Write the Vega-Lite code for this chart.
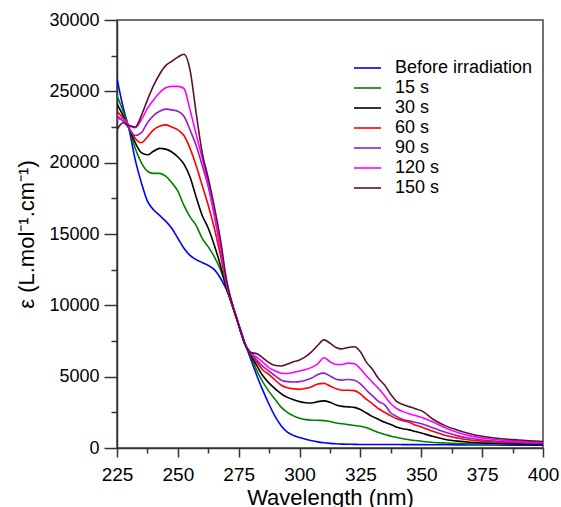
{
"$schema": "https://vega.github.io/schema/vega-lite/v6.json",
"width": 426, "height": 428,
"autosize": "none",
"padding": {"left": 117, "top": 20, "right": 18, "bottom": 59},
"config": {
  "font": "Liberation Sans",
  "view": {"stroke": "#444", "strokeWidth": 1.5},
  "axis": {"domainColor": "#333", "domainWidth": 1.5, "tickColor": "#333", "tickWidth": 1.5, "labelColor": "#000", "labelFontSize": 19, "titleColor": "#000", "titleFontSize": 22, "titleFontWeight": "normal", "grid": false}
},
"datasets": {
  "spectra": [
{"w":225,"s":"Before irradiation","e":25900},{"w":227.5,"s":"Before irradiation","e":23900},{"w":230,"s":"Before irradiation","e":22300},{"w":232.5,"s":"Before irradiation","e":20200},{"w":235,"s":"Before irradiation","e":18600},{"w":237.5,"s":"Before irradiation","e":17300},{"w":240,"s":"Before irradiation","e":16700},{"w":242.5,"s":"Before irradiation","e":16300},{"w":245,"s":"Before irradiation","e":15900},{"w":247.5,"s":"Before irradiation","e":15400},{"w":250,"s":"Before irradiation","e":14700},{"w":252.5,"s":"Before irradiation","e":14000},{"w":255,"s":"Before irradiation","e":13500},{"w":257.5,"s":"Before irradiation","e":13200},{"w":260,"s":"Before irradiation","e":13000},{"w":262.5,"s":"Before irradiation","e":12800},{"w":265,"s":"Before irradiation","e":12500},{"w":267.5,"s":"Before irradiation","e":11900},{"w":270,"s":"Before irradiation","e":11100},{"w":272.5,"s":"Before irradiation","e":10000},{"w":275,"s":"Before irradiation","e":8700},{"w":277.5,"s":"Before irradiation","e":7400},{"w":280,"s":"Before irradiation","e":6200},{"w":282.5,"s":"Before irradiation","e":5050},{"w":285,"s":"Before irradiation","e":4000},{"w":287.5,"s":"Before irradiation","e":3050},{"w":290,"s":"Before irradiation","e":2200},{"w":292.5,"s":"Before irradiation","e":1550},{"w":295,"s":"Before irradiation","e":1120},{"w":297.5,"s":"Before irradiation","e":880},{"w":300,"s":"Before irradiation","e":730},{"w":302.5,"s":"Before irradiation","e":610},{"w":305,"s":"Before irradiation","e":510},{"w":307.5,"s":"Before irradiation","e":430},{"w":310,"s":"Before irradiation","e":370},{"w":312.5,"s":"Before irradiation","e":325},{"w":315,"s":"Before irradiation","e":295},{"w":317.5,"s":"Before irradiation","e":275},{"w":320,"s":"Before irradiation","e":262},{"w":322.5,"s":"Before irradiation","e":255},{"w":325,"s":"Before irradiation","e":250},{"w":327.5,"s":"Before irradiation","e":250},{"w":330,"s":"Before irradiation","e":250},{"w":332.5,"s":"Before irradiation","e":250},{"w":335,"s":"Before irradiation","e":250},{"w":337.5,"s":"Before irradiation","e":245},{"w":340,"s":"Before irradiation","e":245},{"w":342.5,"s":"Before irradiation","e":240},{"w":345,"s":"Before irradiation","e":240},{"w":347.5,"s":"Before irradiation","e":240},{"w":350,"s":"Before irradiation","e":235},{"w":355,"s":"Before irradiation","e":230},{"w":360,"s":"Before irradiation","e":225},{"w":365,"s":"Before irradiation","e":220},{"w":370,"s":"Before irradiation","e":215},{"w":380,"s":"Before irradiation","e":210},{"w":390,"s":"Before irradiation","e":200},{"w":400,"s":"Before irradiation","e":190},
{"w":225,"s":"15 s","e":24700},{"w":227.5,"s":"15 s","e":23600},{"w":230,"s":"15 s","e":22400},{"w":232.5,"s":"15 s","e":21000},{"w":235,"s":"15 s","e":20000},{"w":237.5,"s":"15 s","e":19400},{"w":240,"s":"15 s","e":19250},{"w":242.5,"s":"15 s","e":19250},{"w":245,"s":"15 s","e":19050},{"w":247.5,"s":"15 s","e":18600},{"w":250,"s":"15 s","e":18000},{"w":252.5,"s":"15 s","e":17000},{"w":255,"s":"15 s","e":16200},{"w":257.5,"s":"15 s","e":15600},{"w":260,"s":"15 s","e":14700},{"w":262.5,"s":"15 s","e":14100},{"w":265,"s":"15 s","e":13400},{"w":267.5,"s":"15 s","e":12500},{"w":270,"s":"15 s","e":11200},{"w":272.5,"s":"15 s","e":9900},{"w":275,"s":"15 s","e":8600},{"w":277.5,"s":"15 s","e":7300},{"w":280,"s":"15 s","e":6400},{"w":282.5,"s":"15 s","e":5400},{"w":285,"s":"15 s","e":4600},{"w":287.5,"s":"15 s","e":3950},{"w":290,"s":"15 s","e":3400},{"w":292.5,"s":"15 s","e":2850},{"w":295,"s":"15 s","e":2500},{"w":297.5,"s":"15 s","e":2250},{"w":300,"s":"15 s","e":2080},{"w":302.5,"s":"15 s","e":1990},{"w":305,"s":"15 s","e":1950},{"w":307.5,"s":"15 s","e":1940},{"w":310,"s":"15 s","e":1920},{"w":312.5,"s":"15 s","e":1860},{"w":315,"s":"15 s","e":1750},{"w":317.5,"s":"15 s","e":1700},{"w":320,"s":"15 s","e":1640},{"w":322.5,"s":"15 s","e":1580},{"w":325,"s":"15 s","e":1520},{"w":327.5,"s":"15 s","e":1420},{"w":330,"s":"15 s","e":1250},{"w":332.5,"s":"15 s","e":1080},{"w":335,"s":"15 s","e":940},{"w":337.5,"s":"15 s","e":830},{"w":340,"s":"15 s","e":730},{"w":342.5,"s":"15 s","e":650},{"w":345,"s":"15 s","e":580},{"w":347.5,"s":"15 s","e":520},{"w":350,"s":"15 s","e":470},{"w":355,"s":"15 s","e":390},{"w":360,"s":"15 s","e":350},{"w":365,"s":"15 s","e":320},{"w":370,"s":"15 s","e":300},{"w":380,"s":"15 s","e":280},{"w":390,"s":"15 s","e":270},{"w":400,"s":"15 s","e":260},
{"w":225,"s":"30 s","e":24100},{"w":227.5,"s":"30 s","e":23300},{"w":230,"s":"30 s","e":22400},{"w":232.5,"s":"30 s","e":21400},{"w":235,"s":"30 s","e":20700},{"w":237.5,"s":"30 s","e":20550},{"w":240,"s":"30 s","e":20800},{"w":242.5,"s":"30 s","e":21000},{"w":245,"s":"30 s","e":20950},{"w":247.5,"s":"30 s","e":20750},{"w":250,"s":"30 s","e":20400},{"w":252.5,"s":"30 s","e":19900},{"w":255,"s":"30 s","e":19000},{"w":257.5,"s":"30 s","e":17600},{"w":260,"s":"30 s","e":16300},{"w":262.5,"s":"30 s","e":15400},{"w":265,"s":"30 s","e":14200},{"w":267.5,"s":"30 s","e":12800},{"w":270,"s":"30 s","e":11200},{"w":272.5,"s":"30 s","e":9900},{"w":275,"s":"30 s","e":8600},{"w":277.5,"s":"30 s","e":7300},{"w":280,"s":"30 s","e":6500},{"w":282.5,"s":"30 s","e":5750},{"w":285,"s":"30 s","e":5050},{"w":287.5,"s":"30 s","e":4550},{"w":290,"s":"30 s","e":4150},{"w":292.5,"s":"30 s","e":3800},{"w":295,"s":"30 s","e":3550},{"w":297.5,"s":"30 s","e":3380},{"w":300,"s":"30 s","e":3250},{"w":302.5,"s":"30 s","e":3170},{"w":305,"s":"30 s","e":3150},{"w":307.5,"s":"30 s","e":3250},{"w":310,"s":"30 s","e":3300},{"w":312.5,"s":"30 s","e":3200},{"w":315,"s":"30 s","e":3020},{"w":317.5,"s":"30 s","e":2920},{"w":320,"s":"30 s","e":2880},{"w":322.5,"s":"30 s","e":2850},{"w":325,"s":"30 s","e":2700},{"w":327.5,"s":"30 s","e":2450},{"w":330,"s":"30 s","e":2200},{"w":332.5,"s":"30 s","e":2000},{"w":335,"s":"30 s","e":1800},{"w":337.5,"s":"30 s","e":1650},{"w":340,"s":"30 s","e":1450},{"w":342.5,"s":"30 s","e":1350},{"w":345,"s":"30 s","e":1270},{"w":347.5,"s":"30 s","e":1150},{"w":350,"s":"30 s","e":1050},{"w":355,"s":"30 s","e":800},{"w":360,"s":"30 s","e":600},{"w":365,"s":"30 s","e":480},{"w":370,"s":"30 s","e":400},{"w":380,"s":"30 s","e":330},{"w":390,"s":"30 s","e":290},{"w":400,"s":"30 s","e":260},
{"w":225,"s":"60 s","e":23600},{"w":227.5,"s":"60 s","e":23100},{"w":230,"s":"60 s","e":22400},{"w":232.5,"s":"60 s","e":21700},{"w":235,"s":"60 s","e":21400},{"w":237.5,"s":"60 s","e":21800},{"w":240,"s":"60 s","e":22300},{"w":242.5,"s":"60 s","e":22550},{"w":245,"s":"60 s","e":22650},{"w":247.5,"s":"60 s","e":22500},{"w":250,"s":"60 s","e":22300},{"w":252.5,"s":"60 s","e":21900},{"w":255,"s":"60 s","e":21000},{"w":257.5,"s":"60 s","e":19800},{"w":260,"s":"60 s","e":18400},{"w":262.5,"s":"60 s","e":17000},{"w":265,"s":"60 s","e":15400},{"w":267.5,"s":"60 s","e":13500},{"w":270,"s":"60 s","e":11400},{"w":272.5,"s":"60 s","e":10000},{"w":275,"s":"60 s","e":8600},{"w":277.5,"s":"60 s","e":7300},{"w":280,"s":"60 s","e":6600},{"w":282.5,"s":"60 s","e":6000},{"w":285,"s":"60 s","e":5450},{"w":287.5,"s":"60 s","e":5150},{"w":290,"s":"60 s","e":4750},{"w":292.5,"s":"60 s","e":4400},{"w":295,"s":"60 s","e":4220},{"w":297.5,"s":"60 s","e":4150},{"w":300,"s":"60 s","e":4110},{"w":302.5,"s":"60 s","e":4180},{"w":305,"s":"60 s","e":4300},{"w":307.5,"s":"60 s","e":4480},{"w":310,"s":"60 s","e":4530},{"w":312.5,"s":"60 s","e":4350},{"w":315,"s":"60 s","e":4150},{"w":317.5,"s":"60 s","e":4050},{"w":320,"s":"60 s","e":4050},{"w":322.5,"s":"60 s","e":4020},{"w":325,"s":"60 s","e":3800},{"w":327.5,"s":"60 s","e":3400},{"w":330,"s":"60 s","e":3100},{"w":332.5,"s":"60 s","e":2750},{"w":335,"s":"60 s","e":2500},{"w":337.5,"s":"60 s","e":2250},{"w":340,"s":"60 s","e":2050},{"w":342.5,"s":"60 s","e":1920},{"w":345,"s":"60 s","e":1800},{"w":347.5,"s":"60 s","e":1620},{"w":350,"s":"60 s","e":1480},{"w":355,"s":"60 s","e":1150},{"w":360,"s":"60 s","e":880},{"w":365,"s":"60 s","e":700},{"w":370,"s":"60 s","e":560},{"w":380,"s":"60 s","e":430},{"w":390,"s":"60 s","e":370},{"w":400,"s":"60 s","e":320},
{"w":225,"s":"90 s","e":23300},{"w":227.5,"s":"90 s","e":22900},{"w":230,"s":"90 s","e":22400},{"w":232.5,"s":"90 s","e":21900},{"w":235,"s":"90 s","e":22100},{"w":237.5,"s":"90 s","e":22800},{"w":240,"s":"90 s","e":23300},{"w":242.5,"s":"90 s","e":23600},{"w":245,"s":"90 s","e":23750},{"w":247.5,"s":"90 s","e":23700},{"w":250,"s":"90 s","e":23600},{"w":252.5,"s":"90 s","e":23250},{"w":255,"s":"90 s","e":22300},{"w":257.5,"s":"90 s","e":21200},{"w":260,"s":"90 s","e":19800},{"w":262.5,"s":"90 s","e":18300},{"w":265,"s":"90 s","e":16300},{"w":267.5,"s":"90 s","e":14000},{"w":270,"s":"90 s","e":11500},{"w":272.5,"s":"90 s","e":10000},{"w":275,"s":"90 s","e":8600},{"w":277.5,"s":"90 s","e":7300},{"w":280,"s":"90 s","e":6650},{"w":282.5,"s":"90 s","e":6150},{"w":285,"s":"90 s","e":5700},{"w":287.5,"s":"90 s","e":5380},{"w":290,"s":"90 s","e":5050},{"w":292.5,"s":"90 s","e":4750},{"w":295,"s":"90 s","e":4650},{"w":297.5,"s":"90 s","e":4630},{"w":300,"s":"90 s","e":4650},{"w":302.5,"s":"90 s","e":4750},{"w":305,"s":"90 s","e":4900},{"w":307.5,"s":"90 s","e":5150},{"w":310,"s":"90 s","e":5250},{"w":312.5,"s":"90 s","e":5050},{"w":315,"s":"90 s","e":4820},{"w":317.5,"s":"90 s","e":4760},{"w":320,"s":"90 s","e":4800},{"w":322.5,"s":"90 s","e":4750},{"w":325,"s":"90 s","e":4500},{"w":327.5,"s":"90 s","e":4050},{"w":330,"s":"90 s","e":3650},{"w":332.5,"s":"90 s","e":3250},{"w":335,"s":"90 s","e":3020},{"w":337.5,"s":"90 s","e":2450},{"w":340,"s":"90 s","e":2200},{"w":342.5,"s":"90 s","e":2000},{"w":345,"s":"90 s","e":1900},{"w":347.5,"s":"90 s","e":1800},{"w":350,"s":"90 s","e":1700},{"w":355,"s":"90 s","e":1400},{"w":360,"s":"90 s","e":1100},{"w":365,"s":"90 s","e":850},{"w":370,"s":"90 s","e":680},{"w":380,"s":"90 s","e":480},{"w":390,"s":"90 s","e":410},{"w":400,"s":"90 s","e":360},
{"w":225,"s":"120 s","e":23000},{"w":227.5,"s":"120 s","e":23100},{"w":230,"s":"120 s","e":22600},{"w":232.5,"s":"120 s","e":22450},{"w":235,"s":"120 s","e":23000},{"w":237.5,"s":"120 s","e":23800},{"w":240,"s":"120 s","e":24400},{"w":242.5,"s":"120 s","e":24900},{"w":245,"s":"120 s","e":25250},{"w":247.5,"s":"120 s","e":25350},{"w":250,"s":"120 s","e":25350},{"w":252.5,"s":"120 s","e":25200},{"w":255,"s":"120 s","e":23700},{"w":257.5,"s":"120 s","e":22000},{"w":260,"s":"120 s","e":20300},{"w":262.5,"s":"120 s","e":18500},{"w":265,"s":"120 s","e":16300},{"w":267.5,"s":"120 s","e":14000},{"w":270,"s":"120 s","e":11600},{"w":272.5,"s":"120 s","e":10000},{"w":275,"s":"120 s","e":8600},{"w":277.5,"s":"120 s","e":7300},{"w":280,"s":"120 s","e":6650},{"w":282.5,"s":"120 s","e":6350},{"w":285,"s":"120 s","e":6000},{"w":287.5,"s":"120 s","e":5620},{"w":290,"s":"120 s","e":5400},{"w":292.5,"s":"120 s","e":5240},{"w":295,"s":"120 s","e":5220},{"w":297.5,"s":"120 s","e":5300},{"w":300,"s":"120 s","e":5400},{"w":302.5,"s":"120 s","e":5500},{"w":305,"s":"120 s","e":5650},{"w":307.5,"s":"120 s","e":5900},{"w":310,"s":"120 s","e":6330},{"w":312.5,"s":"120 s","e":6050},{"w":315,"s":"120 s","e":5850},{"w":317.5,"s":"120 s","e":5850},{"w":320,"s":"120 s","e":5950},{"w":322.5,"s":"120 s","e":5900},{"w":325,"s":"120 s","e":5550},{"w":327.5,"s":"120 s","e":5050},{"w":330,"s":"120 s","e":4600},{"w":332.5,"s":"120 s","e":4150},{"w":335,"s":"120 s","e":3650},{"w":337.5,"s":"120 s","e":3100},{"w":340,"s":"120 s","e":2750},{"w":342.5,"s":"120 s","e":2550},{"w":345,"s":"120 s","e":2400},{"w":347.5,"s":"120 s","e":2280},{"w":350,"s":"120 s","e":2150},{"w":355,"s":"120 s","e":1800},{"w":360,"s":"120 s","e":1400},{"w":365,"s":"120 s","e":1080},{"w":370,"s":"120 s","e":850},{"w":380,"s":"120 s","e":600},{"w":390,"s":"120 s","e":470},{"w":400,"s":"120 s","e":400},
{"w":225,"s":"150 s","e":22300},{"w":227.5,"s":"150 s","e":22800},{"w":230,"s":"150 s","e":22600},{"w":232.5,"s":"150 s","e":22500},{"w":235,"s":"150 s","e":23300},{"w":237.5,"s":"150 s","e":24400},{"w":240,"s":"150 s","e":25400},{"w":242.5,"s":"150 s","e":26200},{"w":245,"s":"150 s","e":26800},{"w":247.5,"s":"150 s","e":27100},{"w":250,"s":"150 s","e":27400},{"w":252.5,"s":"150 s","e":27600},{"w":255,"s":"150 s","e":26500},{"w":257.5,"s":"150 s","e":23500},{"w":260,"s":"150 s","e":20700},{"w":262.5,"s":"150 s","e":18900},{"w":265,"s":"150 s","e":16900},{"w":267.5,"s":"150 s","e":14600},{"w":270,"s":"150 s","e":11800},{"w":272.5,"s":"150 s","e":10000},{"w":275,"s":"150 s","e":8600},{"w":277.5,"s":"150 s","e":7300},{"w":280,"s":"150 s","e":6700},{"w":282.5,"s":"150 s","e":6600},{"w":285,"s":"150 s","e":6300},{"w":287.5,"s":"150 s","e":5980},{"w":290,"s":"150 s","e":5780},{"w":292.5,"s":"150 s","e":5750},{"w":295,"s":"150 s","e":5880},{"w":297.5,"s":"150 s","e":6050},{"w":300,"s":"150 s","e":6170},{"w":302.5,"s":"150 s","e":6400},{"w":305,"s":"150 s","e":6750},{"w":307.5,"s":"150 s","e":7200},{"w":310,"s":"150 s","e":7580},{"w":312.5,"s":"150 s","e":7350},{"w":315,"s":"150 s","e":7050},{"w":317.5,"s":"150 s","e":6950},{"w":320,"s":"150 s","e":7050},{"w":322.5,"s":"150 s","e":7100},{"w":325,"s":"150 s","e":6750},{"w":327.5,"s":"150 s","e":6000},{"w":330,"s":"150 s","e":5500},{"w":332.5,"s":"150 s","e":4850},{"w":335,"s":"150 s","e":4400},{"w":337.5,"s":"150 s","e":3750},{"w":340,"s":"150 s","e":3250},{"w":342.5,"s":"150 s","e":3050},{"w":345,"s":"150 s","e":2900},{"w":347.5,"s":"150 s","e":2750},{"w":350,"s":"150 s","e":2620},{"w":355,"s":"150 s","e":2000},{"w":360,"s":"150 s","e":1550},{"w":365,"s":"150 s","e":1250},{"w":370,"s":"150 s","e":1000},{"w":380,"s":"150 s","e":700},{"w":390,"s":"150 s","e":560},{"w":400,"s":"150 s","e":460}
  ]
},
"data": {"name": "spectra"},
"mark": {"type": "line", "strokeWidth": 1.6, "interpolate": "monotone", "clip": true},
"encoding": {
  "x": {"field": "w", "type": "quantitative",
    "scale": {"domain": [225, 400], "nice": false, "zero": false},
    "axis": {"title": "Wavelength (nm)", "titlePadding": 3,
      "values": [225, 237.5, 250, 262.5, 275, 287.5, 300, 312.5, 325, 337.5, 350, 362.5, 375, 387.5, 400],
      "labelExpr": "datum.value % 25 === 0 ? datum.label : ''",
      "tickSize": {"condition": {"test": "datum.value % 25 === 0", "value": 9}, "value": 5},
      "labelPadding": 8, "labelFlush": false, "labelOverlap": false}},
  "y": {"field": "e", "type": "quantitative",
    "scale": {"domain": [0, 30000], "nice": false},
    "axis": {"title": "ε (L.mol⁻¹.cm⁻¹)", "titlePadding": 10, "format": "d",
      "values": [0, 2500, 5000, 7500, 10000, 12500, 15000, 17500, 20000, 22500, 25000, 27500, 30000],
      "labelExpr": "datum.value % 5000 === 0 ? datum.label : ''",
      "tickSize": {"condition": {"test": "datum.value % 5000 === 0", "value": 13}, "value": 6},
      "labelPadding": 5, "labelFontSize": 18, "labelOverlap": false}},
  "color": {"field": "s", "type": "nominal",
    "scale": {"domain": ["Before irradiation", "15 s", "30 s", "60 s", "90 s", "120 s", "150 s"],
              "range": ["#0000ff", "#008000", "#000000", "#ff0000", "#9020d0", "#ff00ff", "#5b1038"]},
    "legend": {"orient": "none", "legendX": 236, "legendY": 38, "title": null, "padding": 0,
      "symbolType": "stroke", "symbolSize": 729, "symbolStrokeWidth": 1.6,
      "labelFontSize": 18, "labelColor": "#000", "labelOffset": 13, "rowPadding": 0, "clipHeight": 20}}
}
}
